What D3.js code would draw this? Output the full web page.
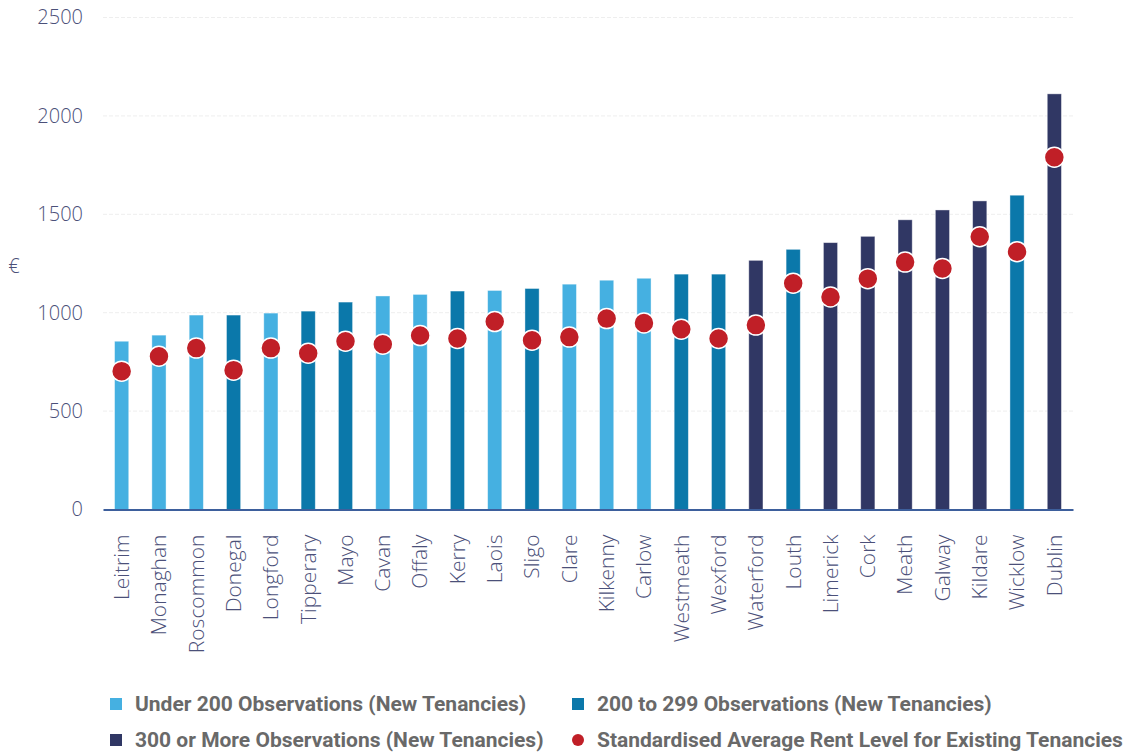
<!DOCTYPE html>
<html>
<head>
<meta charset="utf-8">
<script src="https://cdn.jsdelivr.net/npm/d3@7"></script>
<style>
  body { margin: 0; background: #fff; }
  svg text { font-family: "Open Sans", "Noto Sans", sans-serif; }
</style>
</head>
<body>
<div id="viz"></div>
<script>
// counties, sorted by new tenancy rent
var counties = ["Leitrim", "Monaghan", "Roscommon", "Donegal", "Longford", "Tipperary", "Mayo", "Cavan",
    "Offaly", "Kerry", "Laois", "Sligo", "Clare", "Kilkenny", "Carlow", "Westmeath", "Wexford",
    "Waterford", "Louth", "Limerick", "Cork", "Meath", "Galway", "Kildare", "Wicklow", "Dublin"];
var newRent = [855, 886, 988, 988, 998, 1008, 1054, 1085, 1093, 1110, 1113, 1123, 1145, 1165, 1175,
    1196, 1196, 1266, 1322, 1356, 1388, 1472, 1522, 1568, 1597, 2112];
var existingRent = [703, 779, 820, 708, 820, 794, 855, 840, 884, 869, 955, 860, 876, 970, 948,
    916, 869, 937, 1150, 1080, 1173, 1257, 1225, 1386, 1310, 1790];
// 0 = under 200, 1 = 200 to 299, 2 = 300 or more observations
var obsGroup = [0, 0, 0, 1, 0, 1, 1, 0, 0, 1, 0, 1, 0, 0, 0, 1, 1, 2, 1, 2, 2, 2, 2, 2, 1, 2];
var groupLabels = ["Under 200 Observations (New Tenancies)", "200 to 299 Observations (New Tenancies)",
    "300 or More Observations (New Tenancies)"];
var dotLabel = "Standardised Average Rent Level for Existing Tenancies";
var yTicks = [0, 500, 1000, 1500, 2000, 2500];

var groupColors = ["#45b0e1", "#0b78aa", "#303764"];
var dotColor = "#c01f27";
var textColor = "#4b5079";

var width = 1126, height = 754;
var margin = {left: 103, right: 53, top: 17.5, bottom: 244.5};

var svg = d3.select("#viz").append("svg")
    .attr("width", width)
    .attr("height", height);

var x = d3.scaleBand()
    .domain(counties)
    .range([margin.left, width - margin.right])
    .paddingInner(0.62)
    .paddingOuter(0.31);

var y = d3.scaleLinear()
    .domain([0, 2500])
    .range([height - margin.bottom, margin.top]);

// gridlines
svg.append("g")
    .selectAll("line")
    .data(yTicks.filter(function(d) { return d > 0; }))
    .enter().append("line")
    .attr("x1", margin.left)
    .attr("x2", width - margin.right)
    .attr("y1", function(d) { return y(d); })
    .attr("y2", function(d) { return y(d); })
    .style("stroke", "#eeeeee")
    .style("stroke-dasharray", "4,2");

// y axis labels
var yAxis = d3.axisLeft(y).tickValues(yTicks).tickFormat(d3.format("d")).tickSize(0).tickPadding(20);
var yg = svg.append("g")
    .attr("transform", "translate(" + margin.left + ",0)")
    .call(yAxis);
yg.select(".domain").remove();
yg.selectAll("text")
    .style("font-size", "20px")
    .style("font-weight", "300")
    .style("fill", textColor);

svg.append("text")
    .attr("x", 14)
    .attr("y", 268)
    .attr("text-anchor", "middle")
    .attr("dominant-baseline", "middle")
    .style("font-size", "20px")
    .style("font-weight", "300")
    .style("fill", textColor)
    .text("€");

// bars
svg.append("g")
    .selectAll("rect")
    .data(counties)
    .enter().append("rect")
    .attr("x", function(d) { return x(d); })
    .attr("width", x.bandwidth())
    .attr("y", function(d, i) { return y(newRent[i]); })
    .attr("height", function(d, i) { return y(0) - y(newRent[i]); })
    .style("fill", function(d, i) { return groupColors[obsGroup[i]]; })
    .style("stroke", "#ffffff")
    .style("stroke-opacity", 0.5)
    .style("stroke-width", 0.8);

// x axis
var xAxis = d3.axisBottom(x).tickSize(0).tickPadding(0);
var xg = svg.append("g")
    .attr("transform", "translate(0," + y(0) + ")")
    .call(xAxis);
xg.select(".domain")
    .style("stroke", "#3d5f9c")
    .style("stroke-width", 2);
xg.selectAll("text")
    .attr("transform", "rotate(-90)")
    .attr("x", -25)
    .attr("y", 0)
    .attr("dy", "0.35em")
    .attr("text-anchor", "end")
    .style("font-size", "21px")
    .style("font-weight", "300")
    .style("fill", textColor);

// existing tenancy dots
svg.append("g")
    .selectAll("circle")
    .data(counties)
    .enter().append("circle")
    .attr("cx", function(d) { return x(d) + x.bandwidth() / 2; })
    .attr("cy", function(d, i) { return y(existingRent[i]); })
    .attr("r", 10)
    .style("fill", dotColor)
    .style("stroke", "#ffffff")
    .style("stroke-width", 1.5);

// legend
var legendItems = [
    {label: groupLabels[0], color: groupColors[0], x: 110, y: 704, type: "rect"},
    {label: groupLabels[1], color: groupColors[1], x: 572, y: 704, type: "rect"},
    {label: groupLabels[2], color: groupColors[2], x: 110, y: 740, type: "rect"},
    {label: dotLabel, color: dotColor, x: 572, y: 740, type: "circle"}
];
var lg = svg.append("g")
    .selectAll("g")
    .data(legendItems)
    .enter().append("g")
    .attr("transform", function(d) { return "translate(" + d.x + "," + d.y + ")"; });
lg.filter(function(d) { return d.type == "rect"; })
    .append("rect")
    .attr("x", 0).attr("y", -6)
    .attr("width", 12).attr("height", 12)
    .style("fill", function(d) { return d.color; });
lg.filter(function(d) { return d.type == "circle"; })
    .append("circle")
    .attr("cx", 6).attr("cy", 0).attr("r", 6)
    .style("fill", function(d) { return d.color; });
lg.append("text")
    .attr("x", 25)
    .attr("dy", "0.35em")
    .style("font-family", "Roboto, sans-serif")
    .style("font-size", "21px")
    .style("font-weight", "bold")
    .style("fill", "#696969")
    .text(function(d) { return d.label; });
</script>
</body>
</html>
